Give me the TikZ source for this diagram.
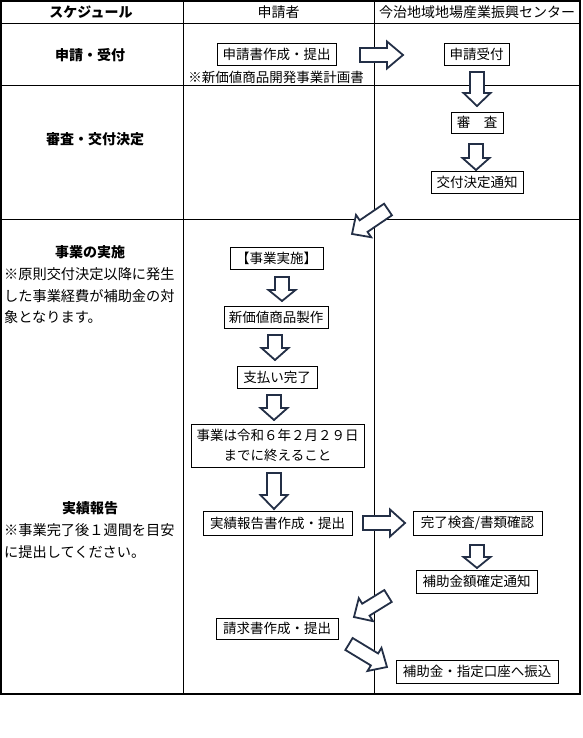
\documentclass[tikz,border=0pt]{standalone}
\usepackage{fontspec}
\setmainfont{Noto Sans CJK JP}
\definecolor{arrowc}{RGB}{35,47,70}
\begin{document}
\begin{tikzpicture}[x=1pt,y=-1pt,
  every node/.style={font=\fontsize{13.5}{20}\selectfont, inner sep=0pt},
  box/.style={draw=black, line width=0.9pt, fill=white, minimum height=22},
  lbl/.style={font=\fontsize{14}{20}\selectfont\bfseries},
  hdr/.style={font=\fontsize{14}{20}\selectfont},
  note/.style={anchor=west, font=\fontsize{14.2}{20}\selectfont},
  grid/.style={line width=1pt},
  arrowline/.style={draw=arrowc, line width=1.8pt, fill=white, line join=miter},
  pics/barrow/.style 2 args={code={\draw[arrowline] (0,-7) -- ({#1-#2},-7) -- ({#1-#2},-13.5) -- (#1,0) -- ({#1-#2},13.5) -- ({#1-#2},7) -- (0,7) -- cycle;}}
]
\useasboundingbox (0,0) rectangle (582,738);
\fill[white] (0,0) rectangle (582,738);
% table
\draw[line width=1.5pt] (1,1) rectangle (580,694);
\draw[grid] (1,24) -- (580,24);
\draw[grid] (1,86) -- (580,86);
\draw[grid] (1,219) -- (580,219);
\draw[grid] (183,1) -- (183,694);
\draw[grid] (374,1) -- (374,694);
% header
\node[lbl] (h1) at (91,12) {スケジュール};
\node[hdr] (h2) at (278.5,12) {申請者};
\node[hdr] (h3) at (477,12) {今治地域地場産業振興センター};
% row 1
\node[lbl] (s1) at (90,55) {申請・受付};
\node[box, minimum width=119] (b1) at (276.5,54) {申請書作成・提出};
\node (n1) at (276,77) {※新価値商品開発事業計画書};
\pic at (360,55) {barrow={43}{16}};
\node[box, minimum width=65] (b2) at (476.5,54) {申請受付};
\pic[rotate=-90] at (477,72) {barrow={34}{13}};
% row 2
\node[lbl] (s2) at (95,139) {審査・交付決定};
\node[box, minimum width=52, minimum height=21] (b3) at (477,122.5) {審　査};
\pic[rotate=-90] at (476,144) {barrow={26}{12}};
\node[box, minimum width=92] (b4) at (477,182) {交付決定通知};
\pic[rotate=214.2] at (388,209.5) {barrow={43.5}{14}};
% row 3
\node[lbl] (s3) at (90,252) {事業の実施};
\node[note] (t1) at (4,274) {※原則交付決定以降に発生};
\node[note] (t2) at (4,296) {した事業経費が補助金の対};
\node[note] (t3) at (4,317) {象となります。};
\node[box, minimum width=93] (b5) at (276.5,258) {【事業実施】};
\pic[rotate=-90] at (282,277) {barrow={24}{11}};
\node[box, minimum width=104] (b6) at (276,317) {新価値商品製作};
\pic[rotate=-90] at (275,335) {barrow={25}{12}};
\node[box, minimum width=80] (b7) at (277,377) {支払い完了};
\pic[rotate=-90] at (274,395) {barrow={25}{12}};
\node[box, minimum width=173, minimum height=43, align=center] (b8) at (277.5,445.5) {事業は令和６年２月２９日\\までに終えること};
\pic[rotate=-90] at (274,473) {barrow={36}{14}};
\node[lbl] (s4) at (90,508) {実績報告};
\node[note] (t4) at (4,530) {※事業完了後１週間を目安};
\node[note] (t5) at (4,552) {に提出してください。};
\node[box, minimum width=149, minimum height=24] (b9) at (277.5,523) {実績報告書作成・提出};
\pic at (363,523) {barrow={42}{15}};
\node[box, minimum width=129, minimum height=24] (b10) at (477.5,523) {完了検査/書類確認};
\pic[rotate=-90] at (477,545) {barrow={23}{11}};
\node[box, minimum width=121, minimum height=23] (b11) at (476.5,581.5) {補助金額確定通知};
\pic[rotate=211.7] at (388,596) {barrow={40}{14}};
\node[box, minimum width=122, minimum height=21] (b12) at (277,628.5) {請求書作成・提出};
\pic[rotate=-31.2] at (349,644) {barrow={44.4}{14.6}};
\node[box, minimum width=162, minimum height=23] (b13) at (477,671.5) {補助金・指定口座へ振込};
\end{tikzpicture}
\end{document}
